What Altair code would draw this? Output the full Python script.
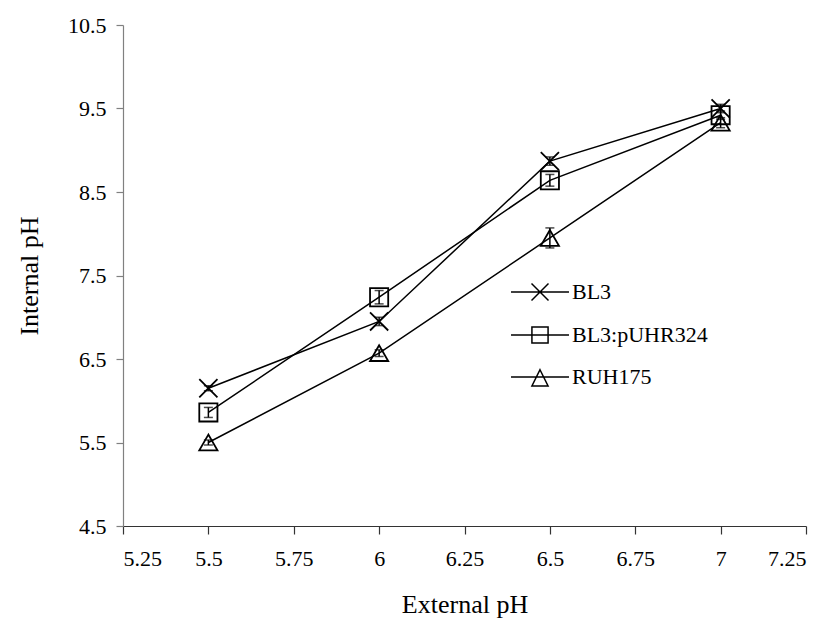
import altair as alt
import pandas as pd

# ---- data ----
external_ph = [5.5, 6.0, 6.5, 7.0]
series_names = ["BL3", "BL3:pUHR324", "RUH175"]
bl3 = [6.15, 6.95, 8.87, 9.50]
bl3_puhr324 = [5.86, 7.24, 8.64, 9.42]
ruh175 = [5.50, 6.57, 7.95, 9.33]
bl3_err = [0.03, 0.05, 0.05, 0.05]
bl3_puhr324_err = [0.06, 0.08, 0.07, 0.05]
ruh175_err = [0.03, 0.04, 0.12, 0.06]
x_ticks = [5.25, 5.5, 5.75, 6.0, 6.25, 6.5, 6.75, 7.0, 7.25]
y_ticks = [4.5, 5.5, 6.5, 7.5, 8.5, 9.5, 10.5]

rows = []
for name, vals, errs in zip(series_names, [bl3, bl3_puhr324, ruh175],
                            [bl3_err, bl3_puhr324_err, ruh175_err]):
    for x, v, e in zip(external_ph, vals, errs):
        rows.append({"series": name, "x": x, "y": v, "lo": v - e, "hi": v + e})
df = pd.DataFrame(rows)

FONT = "Times New Roman, Liberation Serif, serif"
X_PATH = "M-1,-1L1,1M-1,1L1,-1"
LEG_X = "M-3.41,0L3.41,0M-1,-1L1,1M-1,1L1,-1"
LEG_SQ = "M-3.41,0L3.41,0M-0.95,-0.95L0.95,-0.95L0.95,0.95L-0.95,0.95Z"
LEG_TRI = "M-3.41,0L3.41,0M0,-0.85L0.95,1.05L-0.95,1.05Z"

xscale = alt.Scale(domain=[5.25, 7.25], nice=False, zero=False)
yscale = alt.Scale(domain=[4.5, 10.5], nice=False, zero=False)

xenc = alt.X("x:Q", scale=xscale,
             axis=alt.Axis(title="External pH", values=x_ticks,
                           labelExpr="'' + datum.value",
                           labelFont=FONT, titleFont=FONT))
yenc = alt.Y("y:Q", scale=yscale,
             axis=alt.Axis(title="Internal pH", values=y_ticks, format=".1f",
                           labelFont=FONT, titleFont=FONT))

base = alt.Chart(df)

lines = base.mark_line(color="black", strokeWidth=1.5).encode(
    x=xenc, y=yenc, detail="series:N")

err_rule = base.mark_rule(color="black", strokeWidth=1.5).encode(
    x="x:Q", y="lo:Q", y2="hi:Q")
cap_lo = base.mark_tick(color="black", thickness=1.5, size=9, orient="horizontal").encode(
    x="x:Q", y="lo:Q")
cap_hi = base.mark_tick(color="black", thickness=1.5, size=9, orient="horizontal").encode(
    x="x:Q", y="hi:Q")

points = base.mark_point(filled=False, color="black", strokeWidth=1.8, size=330, opacity=1).encode(
    x=xenc, y=yenc,
    shape=alt.Shape("series:N", legend=None,
                    scale=alt.Scale(domain=series_names,
                                    range=[X_PATH, "square", "triangle-up"])))

legend_layer = base.transform_filter("datum.x > 100").mark_point(
    filled=False, color="black", strokeWidth=1.5).encode(
    x=xenc, y=yenc,
    shape=alt.Shape("series:N",
                    scale=alt.Scale(domain=series_names, range=[LEG_X, LEG_SQ, LEG_TRI]),
                    legend=alt.Legend(title=None, orient="none", legendX=406, legendY=256,
                                      symbolSize=289, labelOffset=21, rowPadding=19,
                                      padding=0, symbolStrokeWidth=1.5,
                                      symbolStrokeColor="black", symbolOpacity=1,
                                      labelFont=FONT, labelFontSize=22,
                                      labelColor="black")))

chart = alt.layer(lines, err_rule, cap_lo, cap_hi, points, legend_layer).resolve_scale(
    shape="independent"
).properties(
    width=683, height=501,
    autosize=alt.AutoSizeParams(type="none"),
    padding={"left": 115, "top": 17, "right": 16, "bottom": 95},
).configure(font=FONT).configure_view(stroke=None).configure_axis(
    grid=False, labelFont=FONT, labelFontSize=22, labelColor="black",
    titleFont=FONT, titleFontSize=26, titleFontWeight="normal", titleColor="black",
    tickSize=7, tickColor="#555555", domainColor="#555555", domainWidth=1.2, tickWidth=1.2,
).configure_axisX(
    labelPadding=14, titlePadding=22, domainColor="#333333", tickColor="#333333", tickSize=8
).configure_axisY(
    labelPadding=10, titlePadding=25, domainColor="#808080", tickColor="#808080"
).configure_legend(labelFont=FONT)

chart.save("out.html", embed_options={"renderer": "svg", "actions": False})
